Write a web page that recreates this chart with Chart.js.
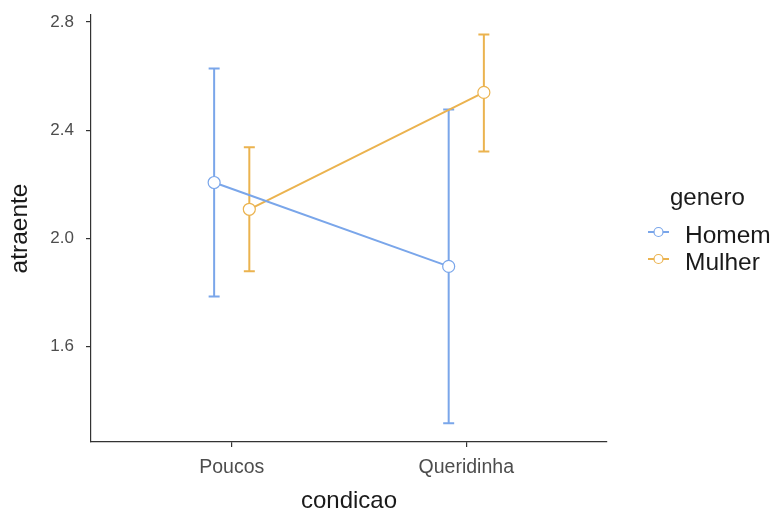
<!DOCTYPE html>
<html>
<head>
<meta charset="utf-8">
<script src="https://cdn.jsdelivr.net/npm/chart.js@4/dist/chart.umd.min.js"></script>
<style>
  html, body { margin: 0; padding: 0; background: #ffffff; }
  #wrap { width: 774px; height: 513px; position: relative; }
</style>
</head>
<body>
<div id="wrap"><canvas id="chart" width="774" height="513"></canvas></div>
<script>
// Conditions on the x axis
const categories = ['Poucos', 'Queridinha'];
// Group means and error-bar limits of "atraente"
const homemMean = [2.207, 1.897];
const homemLow  = [1.786, 1.317];
const homemHigh = [2.628, 2.477];
const mulherMean = [2.108, 2.540];
const mulherLow  = [1.879, 2.322];
const mulherHigh = [2.337, 2.754];
// y-axis tick labels
const yTicks = [1.6, 2.0, 2.4, 2.8];
const groups = ['Homem', 'Mulher'];

const BLUE = '#7AA6EA';
const ORANGE = '#EBB34F';
const DODGE = 0.075;
const FONT = "'Liberation Sans', Arial, Helvetica, sans-serif";

function pts(means, shift) {
  return means.map((v, i) => ({ x: i + 1 + shift, y: v }));
}

const series = [
  { label: groups[0], color: BLUE, mean: homemMean, low: homemLow, high: homemHigh, shift: -DODGE },
  { label: groups[1], color: ORANGE, mean: mulherMean, low: mulherLow, high: mulherHigh, shift: DODGE }
];

// Vertical error bars with caps, drawn beneath the points
const errorBars = {
  id: 'errorBars',
  beforeDatasetsDraw(chart) {
    const { ctx, scales: { x, y } } = chart;
    ctx.save();
    ctx.lineWidth = 2;
    ctx.lineCap = 'butt';
    series.forEach(s => {
      ctx.strokeStyle = s.color;
      s.mean.forEach((m, i) => {
        const px = x.getPixelForValue(i + 1 + s.shift);
        const yl = y.getPixelForValue(s.low[i]);
        const yh = y.getPixelForValue(s.high[i]);
        ctx.beginPath();
        ctx.moveTo(px, yl); ctx.lineTo(px, yh);
        ctx.moveTo(px - 5.5, yl); ctx.lineTo(px + 5.5, yl);
        ctx.moveTo(px - 5.5, yh); ctx.lineTo(px + 5.5, yh);
        ctx.stroke();
      });
    });
    ctx.restore();
  }
};

// Legend on the right with title "genero"
const sideLegend = {
  id: 'sideLegend',
  afterDraw(chart) {
    const { ctx } = chart;
    ctx.save();
    ctx.fillStyle = '#1a1a1a';
    ctx.font = '24px ' + FONT;
    ctx.textAlign = 'left';
    ctx.textBaseline = 'alphabetic';
    ctx.fillText('genero', 670, 205);
    series.forEach((s, i) => {
      const cy = 232 + i * 27;
      ctx.strokeStyle = s.color;
      ctx.lineWidth = 2;
      ctx.beginPath();
      ctx.moveTo(648, cy); ctx.lineTo(669, cy);
      ctx.stroke();
      ctx.beginPath();
      ctx.arc(658.5, cy, 4.5, 0, Math.PI * 2);
      ctx.fillStyle = '#ffffff';
      ctx.fill();
      ctx.lineWidth = 1.2;
      ctx.stroke();
      ctx.fillStyle = '#1a1a1a';
      ctx.font = '24.5px ' + FONT;
      ctx.fillText(s.label, 685, cy + 11);
    });
    ctx.restore();
  }
};

new Chart(document.getElementById('chart'), {
  type: 'line',
  data: {
    datasets: series.map(s => ({
      label: s.label,
      data: pts(s.mean, s.shift),
      borderColor: s.color,
      borderWidth: 2,
      backgroundColor: '#ffffff',
      pointBackgroundColor: '#ffffff',
      pointBorderColor: s.color,
      pointBorderWidth: 1.2,
      pointRadius: 6,
      pointHoverRadius: 6,
      tension: 0
    }))
  },
  options: {
    responsive: false,
    animation: false,
    events: [],
    layout: { padding: { top: 15, right: 167, left: 0, bottom: 0 } },
    plugins: { legend: { display: false }, tooltip: { enabled: false } },
    scales: {
      x: {
        type: 'linear',
        min: 0.4,
        max: 2.6,
        afterBuildTicks(scale) { scale.ticks = categories.map((c, i) => ({ value: i + 1 })); },
        afterFit(scale) {
          scale.height = 71;
          scale.paddingLeft = 0; scale.paddingRight = 0;
        },
        ticks: {
          callback: (v) => categories[Math.round(v) - 1],
          color: '#4d4d4d',
          font: { family: FONT, size: 19.5 },
          padding: 9,
          maxRotation: 0,
          autoSkip: false
        },
        grid: { drawOnChartArea: false, drawTicks: true, tickLength: 5, color: '#333333', lineWidth: 1.2 },
        border: { display: true, color: '#333333', width: 1.2 },
        title: { display: true, text: 'condicao', color: '#1a1a1a', font: { family: FONT, size: 24, lineHeight: 1.0 }, padding: { top: 0, bottom: 0 } }
      },
      y: {
        type: 'linear',
        min: 1.248,
        max: 2.826,
        afterBuildTicks(scale) { scale.ticks = yTicks.map(v => ({ value: v })); },
        afterFit(scale) {
          scale.width = 91;
          scale.paddingTop = 0; scale.paddingBottom = 0;
        },
        ticks: {
          callback: (v) => v.toFixed(1),
          color: '#4d4d4d',
          font: { family: FONT, size: 17 },
          padding: 12
        },
        grid: { drawOnChartArea: false, drawTicks: true, tickLength: 5, color: '#333333', lineWidth: 1.2 },
        border: { display: true, color: '#333333', width: 1.2 },
        title: { display: true, text: 'atraente', color: '#1a1a1a', font: { family: FONT, size: 24.5 }, padding: { top: 6, bottom: 0 } }
      }
    }
  },
  plugins: [errorBars, sideLegend]
});
</script>
</body>
</html>
